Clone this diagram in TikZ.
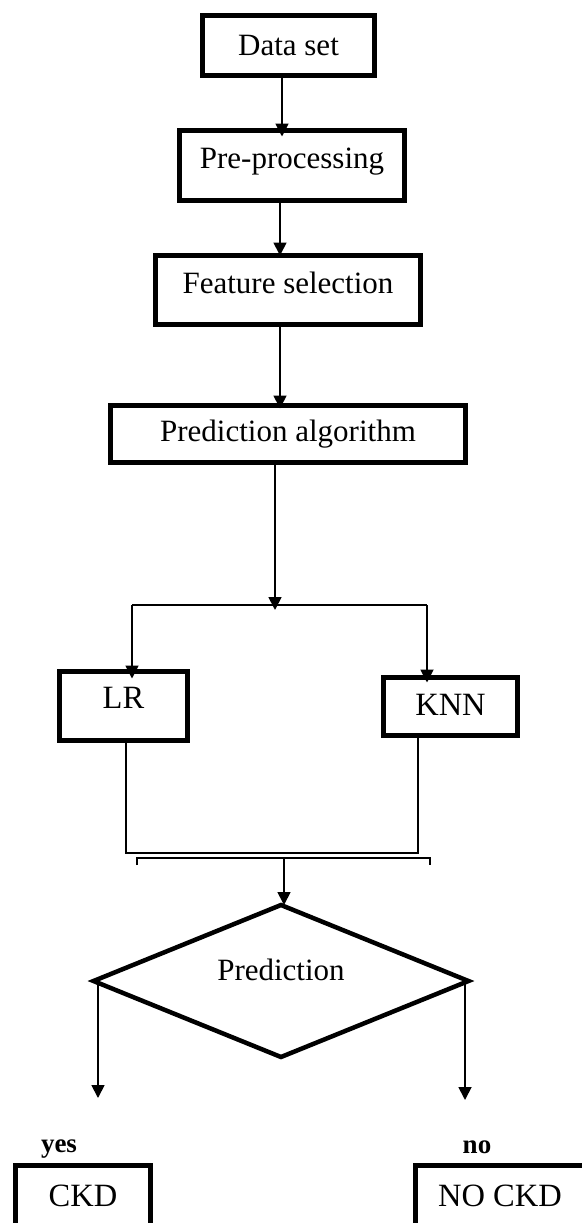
\documentclass[tikz,border=0pt]{standalone}
\usepackage{fontspec}
\setmainfont{Liberation Serif}
\usetikzlibrary{arrows.meta,shapes.geometric}
% lift the printed text inside a node without changing the node's size
\newcommand\upby[2]{\raisebox{#1}[\height][\depth]{#2}}
\begin{document}
\begin{tikzpicture}[x=1pt,y=-1pt,
  box/.style={draw,line width=5pt,inner sep=0pt,outer sep=0pt,
    font=\fontsize{31}{36}\selectfont},
  bigbox/.style={box,font=\fontsize{32.5}{38}\selectfont},
  decision/.style={draw,diamond,aspect=2.5,line width=4.5pt,inner sep=0pt,
    outer sep=0pt,minimum width=375pt,minimum height=152pt},
  txt/.style={inner sep=0pt,font=\fontsize{31}{36}\selectfont},
  lab/.style={inner sep=0pt,font=\fontsize{27}{32}\selectfont\bfseries},
  line/.style={line width=1.8pt},
  arr/.style={line width=1.8pt,-{Triangle[width=13pt,length=13pt]}}]

\useasboundingbox (0,0) rectangle (581,1223);

% process boxes
\node[box,minimum width=172pt,minimum height=60pt] (ds) at (288.5,45.5) {Data set};
\node[box,minimum width=225pt,minimum height=70pt] (pp) at (292,165.5) {\upby{4pt}{Pre-processing}};
\node[box,minimum width=265pt,minimum height=69pt] (fs) at (288,290) {\upby{7pt}{Feature selection}};
\node[box,minimum width=355pt,minimum height=57pt] (pa) at (288,434) {Prediction algorithm};
\node[bigbox,minimum width=128pt,minimum height=69pt] (lr) at (123.5,706) {\upby{8pt}{LR}};
\node[bigbox,minimum width=134pt,minimum height=58pt] (knn) at (450.5,706.5) {\upby{2pt}{KNN}};

% decision
\node[decision] (dec) at (281,981) {};
\node[txt] (dectext) at ([yshift=11pt]dec.center) {Prediction};

% outcome boxes
\node[bigbox,minimum width=135pt,minimum height=60pt] (ckd) at (83,1195.5) {CKD};
\node[bigbox,minimum width=169pt,minimum height=60pt] (nockd) at (500,1195.5) {NO CKD};
\node[lab] (yes) at (59,1149) {yes};
\node[lab] (no) at (477,1147) {no};

% junction points
\coordinate (a1) at (282,0);
\coordinate (a2) at (280,0);
\coordinate (jm) at (275,605);
\coordinate (jl) at (132,605);
\coordinate (jr) at (427,605);
\coordinate (ml) at (126,853);
\coordinate (mr) at (418,853);
\coordinate (bl) at (137,858);
\coordinate (br) at (430,858);
\coordinate (bm) at (284,858);
\coordinate (yesend) at (98,1098);
\coordinate (noend) at (465,1100);

% top chain
\draw[arr] (ds.south -| a1) -- ([yshift=-6pt]pp.north -| a1);
\draw[arr] (pp.south -| a2) -- (fs.north -| a2);
\draw[arr] (fs.south -| a2) -- ([yshift=-3pt]pa.north -| a2);

% split to the two models
\draw[line] (jl) -- (jr);
\draw[arr] (pa.south -| jm) -- ([yshift=-5pt]jm);
\draw[arr] (jl) -- ([yshift=-7pt]lr.north -| jl);
\draw[arr] (jr) -- ([yshift=-5pt]knn.north -| jr);

% merge into the decision
\draw[line] (lr.south -| ml) -- (ml) -- (mr) -- (knn.south -| mr);
\draw[line] ([yshift=-7pt]bl) -- (bl) -- (br) -- ([yshift=-7pt]br);
\draw[arr] (bm) -- (bm |- dec.north);

% outcomes
\draw[arr] (dec.west -| yesend) -- (yesend);
\draw[arr] (dec.east -| noend) -- (noend);
\end{tikzpicture}
\end{document}
